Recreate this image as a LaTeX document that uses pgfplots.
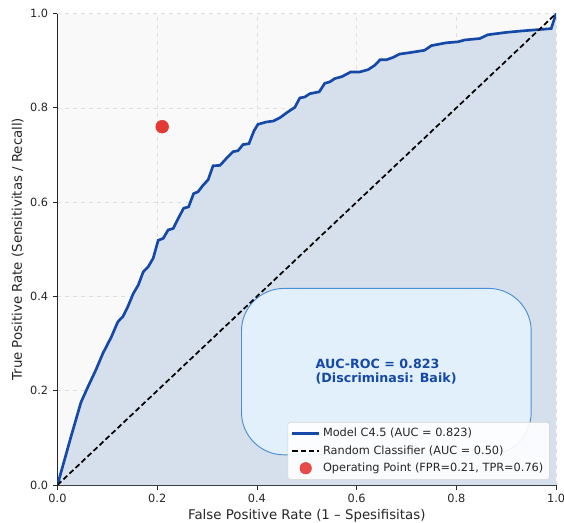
\documentclass[border=0pt]{standalone}
\usepackage{pgfplots}
\pgfplotsset{compat=1.18}
\usepackage{fontspec}
\setmainfont{DejaVu Sans}

\definecolor{rocblue}{HTML}{1549A8}
\definecolor{rocfill}{HTML}{D6E0EC}
\definecolor{axbg}{HTML}{F9F9F9}
\definecolor{opred}{HTML}{E53935}
\definecolor{boxfill}{HTML}{E3F1FC}
\definecolor{boxedge}{HTML}{4A8FD6}
\definecolor{txtgray}{HTML}{262626}

\pgfplotstableread{
x y
0 0
0.027 0.102
0.047 0.175
0.061 0.208
0.077 0.244
0.091 0.279
0.108 0.314
0.121 0.346
0.131 0.357
0.141 0.378
0.152 0.406
0.162 0.424
0.172 0.452
0.182 0.463
0.192 0.481
0.202 0.519
0.212 0.523
0.222 0.541
0.232 0.544
0.242 0.565
0.253 0.587
0.263 0.590
0.273 0.618
0.282 0.622
0.292 0.636
0.302 0.647
0.312 0.677
0.326 0.678
0.339 0.693
0.352 0.707
0.362 0.709
0.372 0.722
0.384 0.724
0.394 0.751
0.402 0.765
0.419 0.770
0.433 0.772
0.446 0.779
0.463 0.792
0.476 0.801
0.486 0.821
0.496 0.823
0.506 0.830
0.525 0.834
0.536 0.852
0.546 0.855
0.556 0.862
0.570 0.866
0.588 0.876
0.606 0.876
0.623 0.881
0.636 0.890
0.647 0.902
0.660 0.902
0.673 0.907
0.686 0.914
0.706 0.917
0.736 0.922
0.750 0.932
0.780 0.938
0.803 0.940
0.817 0.944
0.847 0.947
0.863 0.955
0.900 0.960
0.930 0.963
0.990 0.968
1.0 1.0
}\roc

\begin{document}
\begin{tikzpicture}
\begin{axis}[
    scale only axis,
    width=374pt, height=353.6pt,
    xmin=0, xmax=1, ymin=0, ymax=1,
    axis x line*=bottom, axis y line*=left,
    axis line style={txtgray, line width=0.7pt},
    axis background/.style={fill=axbg},
    xtick={0,0.2,...,1}, ytick={0,0.2,...,1},
    tick align=outside, major tick length=3.5pt,
    tick style={txtgray, line width=0.6pt},
    grid=major,
    major grid style={gray!25, dashed, line width=0.4pt},
    /pgf/number format/assume math mode=true,
    /pgf/number format/.cd, fixed, fixed zerofill, precision=1,
    /pgfplots/.cd,
    tick label style={font=\fontsize{8.5}{10}\selectfont, text=txtgray},
    xlabel={False Positive Rate (1 – Spesifisitas)},
    ylabel={True Positive Rate (Sensitivitas / Recall)},
    label style={font=\fontsize{10}{12}\selectfont, text=txtgray},
    xlabel style={yshift=2pt},
    ylabel style={yshift=-2pt},
    legend cell align=left,
    legend style={at={(0.987,0.011)}, anchor=south east,
        font=\fontsize{8.5}{10.5}\selectfont, text=txtgray,
        fill=white, fill opacity=0.9, text opacity=1,
        draw=gray!35, rounded corners=2pt,
        row sep=1pt, inner sep=2.5pt},
    legend image code/.code={\draw[#1] (0cm,0cm) -- (0.7cm,0cm);},
]
\addplot[fill=rocfill, draw=none, forget plot] table {\roc} \closedcycle;
\draw[fill=boxfill, fill opacity=0.95, draw=boxedge, line width=0.7pt, rounded corners=32pt]
    (axis cs:0.369,0.064) rectangle (axis cs:0.950,0.417);
\node[align=left, font=\bfseries\fontsize{9.5}{10.5}\selectfont, text=rocblue]
    at (axis cs:0.659,0.241) {AUC-ROC = 0.823\\(Discriminasi: Baik)};
\addplot[rocblue, line width=2pt] table {\roc};
\addlegendentry{Model C4.5 (AUC = 0.823)}
\addplot[black, line width=1.3pt, dash pattern=on 4pt off 2.2pt] coordinates {(0,0) (1,1)};
\addlegendentry{Random Classifier (AUC = 0.50)}
\addplot[only marks, mark=*, mark size=4.8pt, color=opred,
    legend image code/.code={\fill[opred] (0.35cm,0cm) circle (4.3pt);}]
    coordinates {(0.21,0.76)};
\addlegendentry{Operating Point (FPR=0.21, TPR=0.76)}
\end{axis}
\pgfresetboundingbox
\path (-43.1pt,-27.75pt) rectangle (379.9pt,363.75pt);
\end{tikzpicture}
\end{document}
